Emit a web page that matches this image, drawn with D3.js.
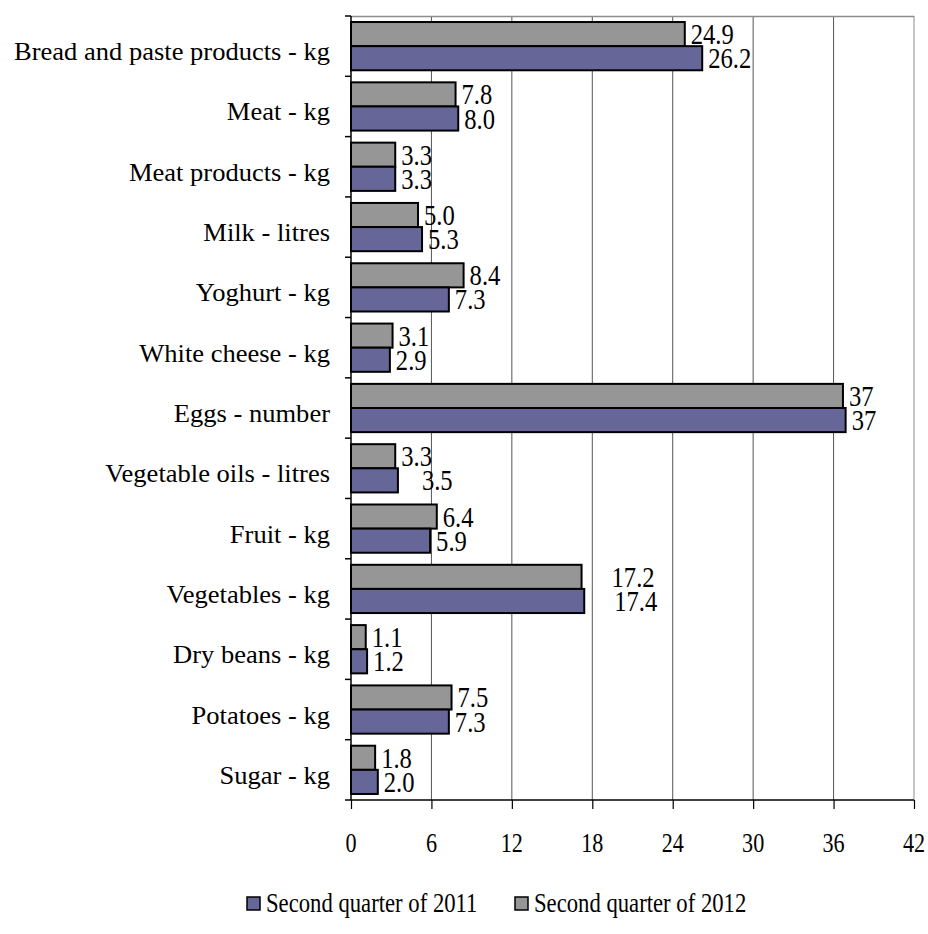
<!DOCTYPE html>
<html><head><meta charset="utf-8">
<script src="https://cdn.jsdelivr.net/npm/d3@7"></script>
<style>body{margin:0;background:#fff}</style>
</head><body>
<svg id="c" width="928" height="934" style="font-family:'Liberation Serif','Times New Roman',serif"></svg>
<script>
const categories = ["Bread and paste products - kg","Meat - kg","Meat products - kg","Milk - litres","Yoghurt - kg","White cheese  - kg","Eggs - number","Vegetable oils - litres","Fruit - kg","Vegetables - kg","Dry beans - kg","Potatoes - kg","Sugar - kg"];
const values2011 = [26.2,8.0,3.3,5.3,7.3,2.9,36.9,3.5,5.9,17.4,1.2,7.3,2.0];
const values2012 = [24.9,7.8,3.3,5.0,8.4,3.1,36.7,3.3,6.4,17.2,1.1,7.5,1.8];
const labels2011 = ["26.2","8.0","3.3","5.3","7.3","2.9","37","3.5","5.9","17.4","1.2","7.3","2.0"];
const labels2012 = ["24.9","7.8","3.3","5.0","8.4","3.1","37","3.3","6.4","17.2","1.1","7.5","1.8"];
const seriesNames = ["Second quarter of 2011","Second quarter of 2012"];
const xTicks = [0,6,12,18,24,30,36,42];

const colors = {"2011":"#666699","2012":"#969696"};
const svg = d3.select("#c");
const L = 351, R = 914, T = 16, B = 800;
const x = d3.scaleLinear().domain([0,42]).range([L,R]);
const y0 = d3.scaleBand().domain(categories).range([T,B]).paddingInner(0.2).paddingOuter(0.1);
const y1 = d3.scaleBand().domain(["2012","2011"]).range([0,y0.bandwidth()]);

function stxt(g, tx, ty, str, anchor, fs, sx){
  const t = g.append("text").attr("x",tx).attr("y",ty)
    .attr("text-anchor",anchor)
    .attr("style",`font-family:'Liberation Serif','Times New Roman',serif;font-size:${fs}px`)
    .attr("fill","#000").text(str);
  if (sx && sx !== 1) {
    const w = t.node().getComputedTextLength();
    t.attr("textLength", w*sx).attr("lengthAdjust","spacingAndGlyphs");
  }
  return t;
}

// grid
svg.append("g").selectAll("line").data(xTicks.slice(1)).join("line")
  .attr("x1",d=>x(d)).attr("x2",d=>x(d)).attr("y1",T).attr("y2",B)
  .attr("stroke",d=>d===42?"#8c8c8c":"#555").attr("stroke-width",1);
svg.append("line").attr("x1",L).attr("x2",R).attr("y1",T+0.5).attr("y2",T+0.5).attr("stroke","#8c8c8c").attr("stroke-width",1.5);

// bars
const data = categories.map((c,i)=>({c, v:[{k:"2012",v:values2012[i],l:labels2012[i]},{k:"2011",v:values2011[i],l:labels2011[i]}]}));
const nudge = {"Vegetable oils - litres|2011":18,"Vegetables - kg|2012":24,"Vegetables - kg|2011":24};
const g = svg.append("g");
data.forEach(d=>{
  d.v.forEach(s=>{
    g.append("rect").attr("x",x(0)).attr("y",y0(d.c)+y1(s.k)).attr("width",x(s.v)-x(0)).attr("height",y1.bandwidth())
      .attr("fill",colors[s.k]).attr("stroke","#000").attr("stroke-width",2);
  });
});
data.forEach(d=>{
  d.v.forEach(s=>{
    const n = nudge[d.c+"|"+s.k]||0;
    stxt(g, x(s.v)+6+n, y0(d.c)+y1(s.k)+y1.bandwidth()/2+10, s.l, "start", 30, 0.82);
  });
});

// axes
svg.append("line").attr("x1",L).attr("x2",L).attr("y1",T).attr("y2",B).attr("stroke","#000").attr("stroke-width",1.5);
const bounds = categories.map(c=>y0(c)-y0.step()*y0.paddingInner()/2).concat([B]);
bounds[0]=T;
svg.append("g").selectAll("line").data(bounds).join("line")
  .attr("x1",L-6).attr("x2",L).attr("y1",d=>d).attr("y2",d=>d).attr("stroke","#000").attr("stroke-width",1.5);
const axB = d3.axisBottom(x).tickValues(xTicks).tickSize(9).tickFormat("");
const gb = svg.append("g").attr("transform",`translate(0,${B})`).call(axB);
gb.select(".domain").attr("stroke","#000").attr("stroke-width",1.5).attr("d",`M${L},0H${R}`);
gb.selectAll(".tick line").attr("stroke","#000").attr("stroke-width",1.2);
xTicks.forEach(t=>stxt(svg, x(t), 852, String(t), "middle", 28, 0.79));

// category labels
categories.forEach(c=>stxt(svg, 330, y0(c)+y0.bandwidth()/2+14, c, "end", 26, 1.02));

// legend
const leg = [{k:"2011",x:247,n:seriesNames[0]},{k:"2012",x:515,n:seriesNames[1]}];
leg.forEach(l=>{
  svg.append("rect").attr("x",l.x).attr("y",897).attr("width",13).attr("height",13).attr("fill",colors[l.k]).attr("stroke","#000").attr("stroke-width",1.5);
  stxt(svg, l.x+19, 912, l.n, "start", 28, 0.81);
});
</script>
</body></html>
